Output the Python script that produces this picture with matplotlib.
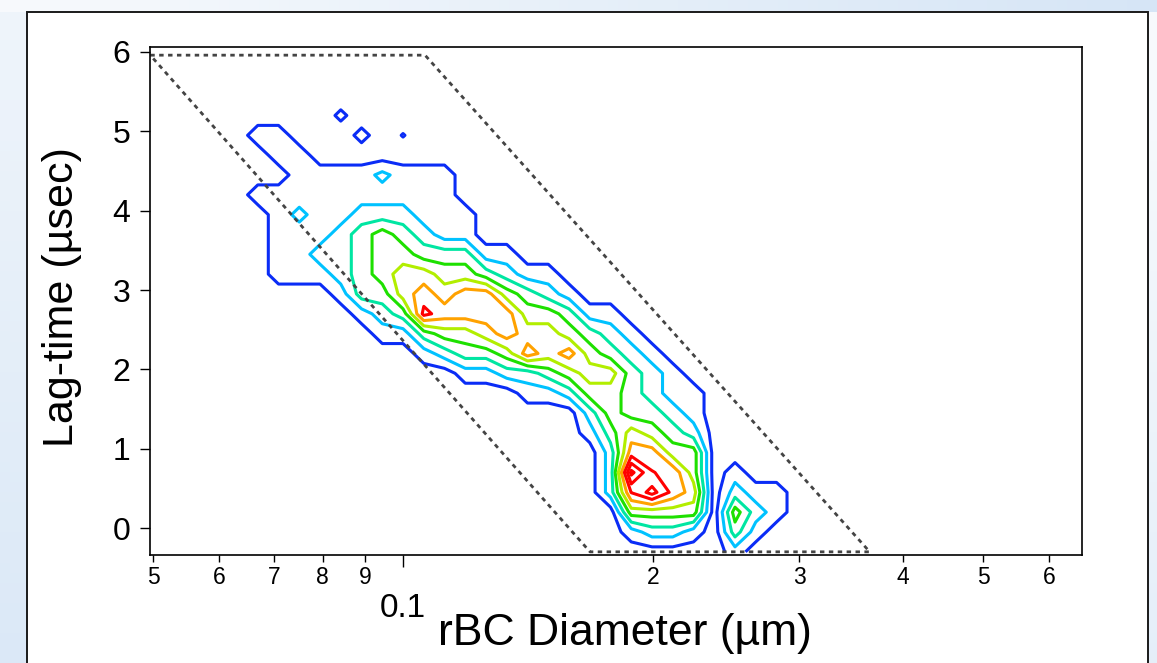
import numpy as np
import matplotlib
matplotlib.use("Agg")
import matplotlib.pyplot as plt
from matplotlib.patches import Rectangle

plt.rcParams["font.family"] = ["Liberation Sans", "DejaVu Sans"]

# Bin centres: log10 of rBC diameter (um) and lag-time (usec)
log_diam_bins = -1.25 + 0.025 * np.arange(31)
lag_bins = -0.3 + 0.25 * np.arange(24)

# Binned counts (contour level units), highest lag-time row first.
# Each row: index of first non-empty diameter bin, then the counts from there.
count_rows = [
    (0, []),
    (7, [0.7]),
    (3, [1, 1, 0, 0, 0, 0.8, 0, 0.55]),
    (4, [1, 1]),
    (5, [1, 1, 1, 1, 1.8, 1, 1, 1]),
    (3, [1, 1, 1, 1, 1, 1, 1, 1, 1, 1]),
    (4, [1, 1.8, 1, 1, 2, 2, 2, 1, 1, 1]),
    (4, [1, 1, 1, 2, 3, 4, 3, 2, 1, 1]),
    (4, [1, 1, 2, 2, 3, 4, 4, 3, 3, 3, 1, 1]),
    (4, [1, 1, 1, 2, 3, 4, 5, 5, 4, 4, 3, 2, 1, 1]),
    (7, [1, 3, 3, 5, 6, 5, 6, 6, 4, 3, 2, 1]),
    (8, [1, 2, 3, 6.8, 6, 6, 6, 6, 4, 4, 3, 1, 1]),
    (9, [1, 1, 3, 4, 4, 5, 6, 5, 5, 4, 3, 2, 1]),
    (11, [1, 2, 3, 3, 4, 6, 5, 6, 4, 3, 2, 1]),
    (13, [1, 1, 2, 2, 3, 4, 5, 5, 3, 2, 1]),
    (16, [1, 1, 2, 4, 4, 3, 2, 1, 1]),
    (19, [2, 4, 3, 3, 2, 1]),
    (19, [1, 3, 5, 4, 3, 2]),
    (20, [2, 6, 6, 4, 4]),
    (20, [2, 8.8, 6.55, 6.2, 4, 0, 1]),
    (20, [2, 6.55, 7.9, 6.2, 5, 0, 2, 1, 1]),
    (21, [4, 4, 4, 4, 0, 4, 2, 1]),
    (21, [1, 2, 2, 1, 0, 3, 1]),
    (26, [1]),
]

contour_levels = [0.5, 1.5, 2.5, 3.5, 4.5, 5.5, 6.5, 7.5, 8.5]
level_colors = ["#0a2cf6", "#00c2ff", "#00e6a2", "#1ee000", "#b2ee00",
                "#ffa200", "#ff0000", "#ff0000", "#ff0000"]

# Detection window (dotted parallelogram)
bound_diam = [0.0496, 0.1063, 0.365, 0.168, 0.0496]
bound_lag = [5.96, 5.96, -0.30, -0.30, 5.96]

minor_ticks = [0.05, 0.06, 0.07, 0.08, 0.09, 0.2, 0.3, 0.4, 0.5, 0.6]
minor_labels = ["5", "6", "7", "8", "9", "2", "3", "4", "5", "6"]

counts = np.zeros((len(lag_bins), len(log_diam_bins)))
for r, (first, vals) in enumerate(count_rows[::-1]):
    counts[r, first:first + len(vals)] = vals
diam_bins = 10 ** log_diam_bins

W, H = 1157, 663
fig = plt.figure(figsize=(W / 100, H / 100), dpi=100)

# slide-style backdrop with a white panel
bg = fig.add_axes([0, 0, 1, 1], zorder=-5)
gy, gx = np.mgrid[0:1:66j, 0:1:116j]
mix = np.clip(0.25 + 0.6 * gy - 0.3 * gx, 0, 1)[..., None]
light = np.array([0.97, 0.98, 0.99])
tint = np.array([0.84, 0.90, 0.965])
bg.imshow(light * (1 - mix) + tint * mix, extent=[0, W, H, 0], aspect="auto")
top_band = np.linspace(0, 1, 116)[None, :, None]
bg.imshow(light * (1 - top_band) + tint * top_band, extent=[0, W, 12, 0], aspect="auto")
bg.add_patch(Rectangle((27, 12), 1148 - 27, H, facecolor="white",
                       edgecolor="#1a1a1a", lw=1.4))
bg.set_xlim(0, W)
bg.set_ylim(H, 0)
bg.axis("off")

ax = fig.add_axes([150 / W, 108 / H, 932 / W, 508 / H])
ax.set_xscale("log")
ax.contour(diam_bins, lag_bins, counts, levels=contour_levels,
           colors=level_colors, linewidths=2.2)
ax.plot(bound_diam, bound_lag, color="#444444", lw=2.0, ls=(0, (1.6, 1.6)),
        clip_on=False)

ax.set_xlim(0.04956, 0.6578)
ax.set_ylim(-0.34, 6.063)

ax.set_xticks([0.1], ["0.1"])
ax.set_xticks(minor_ticks, minor_labels, minor=True)
ax.tick_params(axis="x", which="major", direction="out", length=8.5, width=1.0,
               pad=19, labelsize=24)
ax.tick_params(axis="x", which="minor", direction="out", length=5, width=1.0,
               pad=3, labelsize=16.5)
ax.set_yticks(range(7))
ax.tick_params(axis="y", direction="out", length=7, width=1.0, pad=7, labelsize=23)
for side in ax.spines.values():
    side.set_linewidth(1.2)

ax.set_xlabel("rBC Diameter (µm)", fontsize=32)
ax.xaxis.set_label_coords(0.5097, -0.115)
ax.set_ylabel("Lag-time (µsec)", fontsize=31)
ax.yaxis.set_label_coords(-0.073, 0.508)

fig.savefig("out.png", dpi=100)
